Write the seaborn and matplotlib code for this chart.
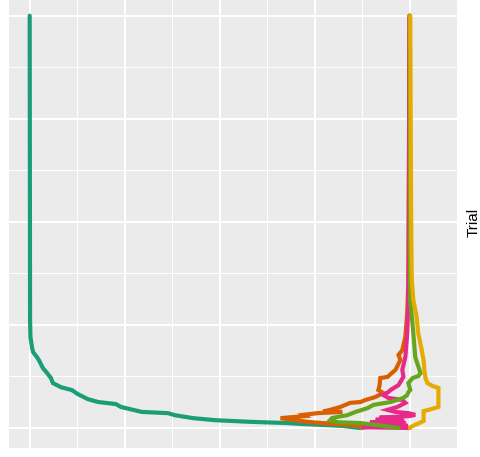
import matplotlib
matplotlib.use("Agg")
import matplotlib.pyplot as plt
import numpy as np
import pandas as pd
import seaborn as sns

# Running estimate per trial, recorded at selected iteration steps
teal_step = [0, 5, 10, 12, 15, 19, 24, 31, 36, 39, 44, 51, 58, 63, 70, 82, 92, 99,
             109, 121, 133, 145, 165, 172, 184, 196, 221, 262, 1000]
teal_est = [0.869, 0.824, 0.711, 0.677, 0.579, 0.487, 0.429, 0.382, 0.364, 0.295,
            0.272, 0.24, 0.227, 0.18, 0.153, 0.127, 0.111, 0.082, 0.061, 0.056, 0.046,
            0.035, 0.024, 0.019, 0.009, 0.006, 0.002, 0.001, 0.0]

orange_step = [0, 5, 10, 14, 19, 24, 29, 32, 36, 39, 40, 44, 51, 61, 63, 68, 75, 85,
               92, 102, 121, 124, 141, 165, 177, 189, 221, 279, 359, 1000]
orange_est = [0.875, 0.87, 0.80, 0.74, 0.695, 0.66, 0.725, 0.72, 0.757, 0.822, 0.772,
              0.79, 0.817, 0.843, 0.87, 0.883, 0.909, 0.93, 0.917, 0.92, 0.922, 0.941,
              0.962, 0.975, 0.97, 0.98, 0.988, 0.993, 0.996, 0.999]

pink_step = [0, 2, 5, 8, 11, 14, 17, 20, 23, 25, 29, 32, 36, 39, 44, 51, 61, 68, 73,
             80, 87, 92, 104, 124, 141, 172, 230, 310, 432, 1000]
pink_est = [1.0, 0.875, 0.995, 0.885, 0.99, 0.895, 0.985, 0.91, 0.98, 0.92, 1.0, 1.014,
            0.996, 0.962, 0.941, 0.967, 0.988, 0.98, 0.943, 0.93, 0.943, 0.949, 0.97,
            0.983, 0.98, 0.988, 0.993, 0.996, 0.997, 0.999]

green_step = [0, 7, 12, 14, 19, 24, 27, 31, 39, 48, 56, 63, 73, 80, 87, 92, 109, 121,
              126, 133, 172, 230, 310, 432, 1000]
green_est = [0.97, 0.915, 0.87, 0.81, 0.79, 0.795, 0.81, 0.835, 0.857, 0.888, 0.904,
             0.949, 0.983, 0.993, 0.996, 1.001, 0.996, 1.007, 1.022, 1.028, 1.014,
             1.009, 1.001, 1.0, 1.0]

yellow_step = [0, 2, 10, 17, 41, 46, 51, 97, 102, 109, 121, 141, 165, 194, 230, 274,
               310, 359, 432, 553, 1000]
yellow_est = [1.0, 1.001, 1.02, 1.036, 1.036, 1.057, 1.075, 1.075, 1.059, 1.046, 1.041,
              1.038, 1.036, 1.03, 1.022, 1.017, 1.009, 1.005, 1.004, 1.003, 1.001]

trials = ["1", "2", "4", "5", "6"]
trial_colors = ["#1B9E77", "#D95F02", "#E7298A", "#66A61E", "#E6AB02"]

series = [(teal_step, teal_est), (orange_step, orange_est), (pink_step, pink_est),
          (green_step, green_est), (yellow_step, yellow_est)]
frames = []
for trial, (steps, est) in zip(trials, series):
    frames.append(pd.DataFrame({"Trial": trial, "step": steps, "estimate": est}))
df = pd.concat(frames, ignore_index=True)

sns.set_style("darkgrid", {"axes.facecolor": "#EBEBEB", "grid.color": "white"})
plt.rcParams["font.family"] = ["Liberation Sans", "DejaVu Sans"]

fig = plt.figure(figsize=(4.8, 4.57), dpi=100)
ax = fig.add_axes([9 / 480, 9 / 457, 449 / 480, 448 / 457])

sns.lineplot(data=df, x="estimate", y="step", hue="Trial", hue_order=trials,
             palette=dict(zip(trials, trial_colors)), estimator=None, sort=False,
             linewidth=3.0, legend=False, ax=ax)
for line in ax.lines:
    line.set_solid_joinstyle("miter")

ax.set_xlim(-0.0544, 1.1265)
ax.set_ylim(-48.5, 1038)
ax.set_xticks([0, 0.25, 0.5, 0.75, 1.0])
ax.set_xticks([0.125, 0.375, 0.625, 0.875, 1.125], minor=True)
ax.set_yticks([0, 250, 500, 750, 1000])
ax.set_yticks([125, 375, 625, 875], minor=True)
ax.grid(which="major", color="white", linewidth=1.5)
ax.grid(which="minor", color="white", linewidth=0.75)
ax.tick_params(which="both", length=0, labelbottom=False, labelleft=False)
ax.set_xlabel("")
ax.set_ylabel("")
for s in ax.spines.values():
    s.set_visible(False)
ax.set_axisbelow(True)

fig.text(474 / 480, 1 - 222 / 457, "Trial", rotation=90, ha="center", va="center",
         fontsize=11, color="black")

fig.savefig("out.png", dpi=100, facecolor="white")
